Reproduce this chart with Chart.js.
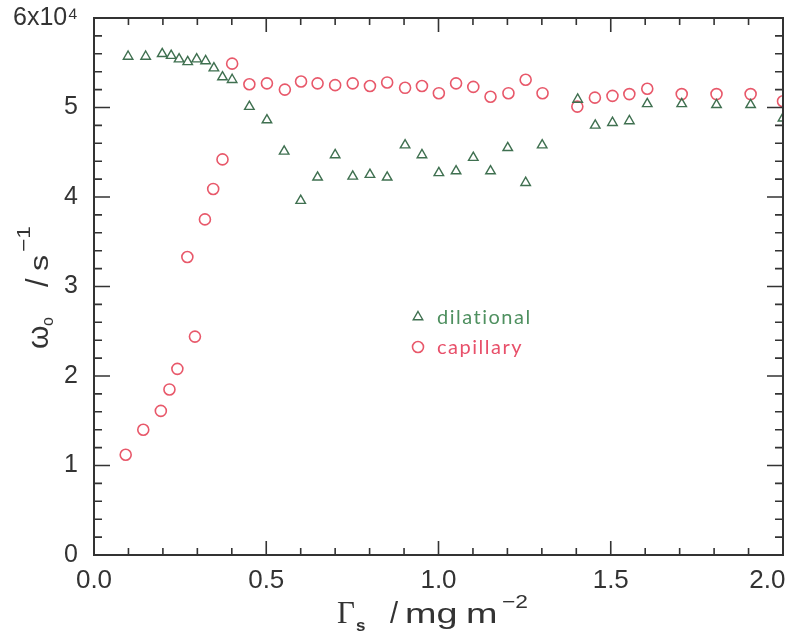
<!DOCTYPE html>
<html>
<head>
<meta charset="utf-8">
<script src="https://cdn.jsdelivr.net/npm/chart.js@4.4.1/dist/chart.umd.min.js"></script>
<style>
    html, body { margin: 0; padding: 0; background: #ffffff; }
</style>
</head>
<body>
<canvas id="graficoOmega" width="791" height="639"></canvas>
<script>
// Dados (Γs em mg m^-2, ω0 em s^-1)
var gammaDilational = [0.099, 0.150, 0.198, 0.224, 0.247, 0.272, 0.298, 0.324, 0.348, 0.373, 0.401,
    0.451, 0.502, 0.552, 0.600, 0.649, 0.700, 0.751, 0.801, 0.851, 0.903, 0.952, 1.001, 1.051,
    1.101, 1.151, 1.201, 1.253, 1.301, 1.404, 1.455, 1.505, 1.554, 1.606, 1.706, 1.807, 1.906, 2.0];
var omegaDilational = [55700, 55700, 56000, 55800, 55400, 55100, 55400, 55200, 54400, 53400, 53100,
    50100, 48600, 45100, 39600, 42200, 44700, 42300, 42500, 42200, 45800, 44700, 42700, 42900,
    44400, 42900, 45500, 41600, 45800, 50900, 48000, 48300, 48500, 50400, 50400, 50300, 50300, 48800];

var gammaCapillary = [0.092, 0.143, 0.194, 0.219, 0.242, 0.271, 0.293, 0.322, 0.346, 0.373, 0.401,
    0.451, 0.502, 0.554, 0.601, 0.649, 0.700, 0.751, 0.801, 0.851, 0.903, 0.952, 1.001, 1.051,
    1.101, 1.151, 1.203, 1.253, 1.302, 1.403, 1.454, 1.505, 1.554, 1.606, 1.706, 1.807, 1.906, 2.0];
var omegaCapillary = [11200, 14000, 16100, 18500, 20800, 33300, 24400, 37500, 40900, 44200, 54900,
    52600, 52700, 52000, 52900, 52700, 52500, 52700, 52400, 52800, 52200, 52400, 51600, 52700,
    52300, 51200, 51600, 53100, 51600, 50100, 51100, 51300, 51500, 52100, 51500, 51500, 51500, 50700];

var xTicks = [0, 0.5, 1.0, 1.5, 2.0];
var yTicks = [0, 10000, 20000, 30000, 40000, 50000, 60000];

var corEixo = "#333333";
var corDilational = "#3f7050";
var corCapillary = "#e8586a";

function pontos(xs, ys) {
    var lista = [];
    for (var i = 0; i < xs.length; i++) {
        lista.push({ x: xs[i], y: ys[i] });
    }
    return lista;
}

// Moldura com marcas para dentro nos quatro lados
var molduraPlugin = {
    id: "moldura",
    afterDatasetsDraw: function (chart) {
        var ctx = chart.ctx;
        var area = chart.chartArea;
        var sx = chart.scales.x;
        var sy = chart.scales.y;
        ctx.save();
        ctx.strokeStyle = corEixo;
        ctx.lineWidth = 2;
        ctx.strokeRect(area.left, area.top, area.right - area.left, area.bottom - area.top);
        ctx.lineWidth = 1.6;
        ctx.beginPath();
        for (var i = 0; i <= 20; i++) {
            var px = sx.getPixelForValue(i / 10);
            var len = (i % 5 === 0) ? 14 : 7;
            ctx.moveTo(px, area.bottom);
            ctx.lineTo(px, area.bottom - len);
            ctx.moveTo(px, area.top);
            ctx.lineTo(px, area.top + len);
        }
        for (var j = 0; j <= 30; j++) {
            var py = sy.getPixelForValue(j * 2000);
            var lenY = (j % 5 === 0) ? 16 : 8;
            ctx.moveTo(area.left, py);
            ctx.lineTo(area.left + lenY, py);
            ctx.moveTo(area.right, py);
            ctx.lineTo(area.right - lenY, py);
        }
        ctx.stroke();
        ctx.restore();
    }
};

// Titulos dos eixos com sub/sobrescritos (x = posicao ao longo do texto)
function escrever(ctx, partes) {
    for (var i = 0; i < partes.length; i++) {
        var p = partes[i];
        ctx.save();
        ctx.font = p.font;
        ctx.translate(p.x, p.dy || 0);
        ctx.scale(p.sx || 1, 1);
        ctx.fillText(p.t, 0, 0);
        ctx.restore();
    }
}

var titulosPlugin = {
    id: "titulos",
    afterDraw: function (chart) {
        var ctx = chart.ctx;
        ctx.save();
        ctx.fillStyle = corEixo;
        ctx.textBaseline = "alphabetic";
        ctx.translate(0, 623);
        escrever(ctx, [
            { t: "Γ", x: 337, font: "31px 'Liberation Serif'" },
            { t: "s", x: 356, dy: 8, font: "bold 17px 'Liberation Sans'" },
            { t: "/", x: 390, font: "29px 'Liberation Sans'" },
            { t: "mg", x: 405, font: "28px 'Liberation Sans'", sx: 1.35 },
            { t: "m", x: 466, font: "28px 'Liberation Sans'", sx: 1.35 },
            { t: "−2", x: 502, dy: -15, font: "19px 'Liberation Sans'", sx: 1.2 }
        ]);
        ctx.restore();

        ctx.save();
        ctx.fillStyle = corEixo;
        ctx.textBaseline = "alphabetic";
        ctx.translate(48, 349);
        ctx.rotate(-Math.PI / 2);
        escrever(ctx, [
            { t: "ω", x: 0, font: "30px 'Liberation Sans'" },
            { t: "o", x: 23, dy: 5, font: "16px 'Liberation Sans'" },
            { t: "/", x: 62, font: "31px 'Liberation Sans'" },
            { t: "s", x: 78, font: "26px 'Liberation Sans'", sx: 1.25 },
            { t: "−1", x: 97, dy: -18, font: "19px 'Liberation Sans'", sx: 1.2 }
        ]);
        ctx.restore();
    }
};

// Legenda dentro do gráfico
var legendaPlugin = {
    id: "legenda",
    afterDraw: function (chart) {
        var ctx = chart.ctx;
        var itens = chart.data.datasets;
        var x0 = 418, y0 = 317, passo = 30;
        ctx.save();
        ctx.textBaseline = "middle";
        for (var i = 0; i < itens.length; i++) {
            var ds = itens[i];
            ctx.fillStyle = "rgba(0,0,0,0)";
            ctx.strokeStyle = ds.borderColor;
            ctx.lineWidth = ds.pointBorderWidth;
            Chart.helpers.drawPoint(ctx, {
                pointStyle: ds.pointStyle,
                radius: ds.pointRadius,
                borderWidth: ds.pointBorderWidth,
                rotation: 0
            }, x0, y0 + i * passo);
            ctx.font = "20px Lato";
            ctx.letterSpacing = "1.5px";
            ctx.fillStyle = ds.legendColor;
            ctx.fillText(ds.label, x0 + 19, y0 + i * passo + 1);
        }
        ctx.restore();
    }
};

new Chart(document.getElementById("graficoOmega"), {
    type: "scatter",
    data: {
        datasets: [{
            label: "dilational",
            data: pontos(gammaDilational, omegaDilational),
            pointStyle: "triangle",
            pointRadius: 5.5,
            pointBorderWidth: 1.4,
            borderColor: corDilational,
            backgroundColor: "rgba(0,0,0,0)",
            legendColor: "#4f9060"
        },
        {
            label: "capillary",
            data: pontos(gammaCapillary, omegaCapillary),
            pointStyle: "circle",
            pointRadius: 5.5,
            pointBorderWidth: 1.6,
            borderColor: corCapillary,
            backgroundColor: "rgba(0,0,0,0)",
            legendColor: "#e8506a"
        }]
    },
    options: {
        responsive: false,
        animation: false,
        layout: { padding: { left: 0, top: 18, right: 8, bottom: 0 } },
        plugins: {
            legend: { display: false },
            tooltip: { enabled: false }
        },
        scales: {
            x: {
                type: "linear",
                min: 0,
                max: 2.0,
                afterFit: function (scale) {
                    scale.height = 84;
                    scale.paddingLeft = 0;
                    scale.paddingRight = 0;
                },
                afterBuildTicks: function (scale) {
                    scale.ticks = xTicks.map(function (v) { return { value: v }; });
                },
                grid: { display: false, drawTicks: false },
                border: { display: false },
                ticks: {
                    color: corEixo,
                    padding: 10,
                    font: { family: "Liberation Sans", size: 26 },
                    callback: function (v) {
                        // o ultimo rotulo fica encostado na borda, como no original
                        if (v === 2) return "2.0\u2003\u2009";
                        return v.toFixed(1);
                    }
                }
            },
            y: {
                type: "linear",
                min: 0,
                max: 60000,
                afterFit: function (scale) {
                    scale.width = 94;
                    scale.paddingTop = 0;
                    scale.paddingBottom = 0;
                },
                afterBuildTicks: function (scale) {
                    scale.ticks = yTicks.map(function (v) { return { value: v }; });
                },
                grid: { display: false, drawTicks: false },
                border: { display: false },
                ticks: {
                    color: corEixo,
                    padding: 16,
                    font: { family: "Liberation Sans", size: 25 },
                    callback: function (v) {
                        if (v === 60000) return "6x10⁴";
                        return String(v / 10000);
                    }
                }
            }
        }
    },
    plugins: [molduraPlugin, titulosPlugin, legendaPlugin]
});
</script>
</body>
</html>
